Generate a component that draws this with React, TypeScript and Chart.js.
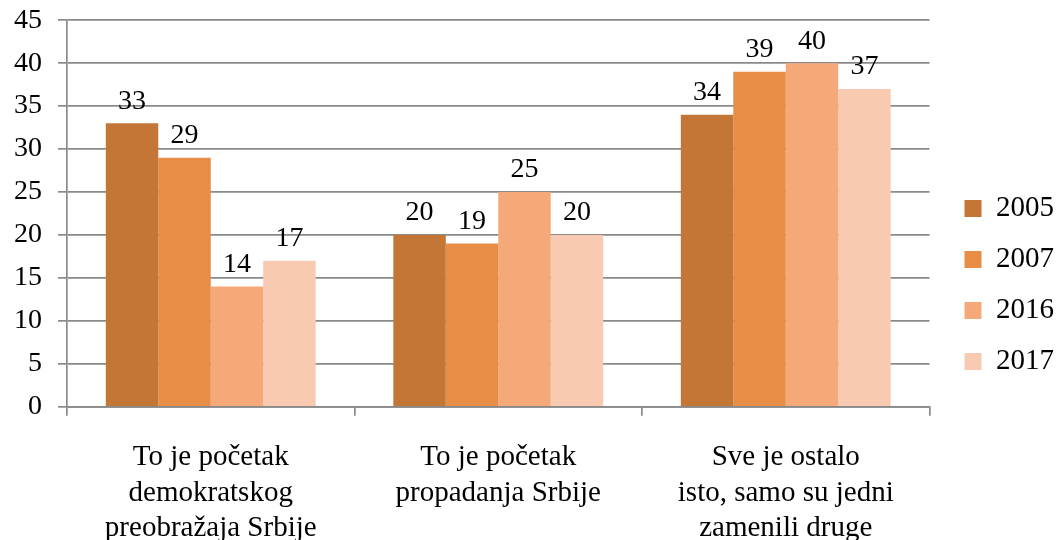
import React, { useEffect, useRef } from "react";
import { Chart, registerables } from "chart.js";

Chart.register(...registerables);

const categories: string[][] = [
  ["To je početak", "demokratskog", "preobražaja Srbije"],
  ["To je početak", "propadanja Srbije"],
  ["Sve je ostalo", "isto, samo su jedni", "zamenili druge"],
];
const seriesNames = ["2005", "2007", "2016", "2017"];
const values2005 = [33, 20, 34];
const values2007 = [29, 19, 39];
const values2016 = [14, 25, 40];
const values2017 = [17, 20, 37];
const seriesColors = ["#C47636", "#E88D45", "#F6A978", "#F8CAB1"];
const yTicks = [0, 5, 10, 15, 20, 25, 30, 35, 40, 45];

const FONT = "'Liberation Serif', 'Times New Roman', serif";

const dataLabelPlugin = {
  id: "dataLabels",
  afterDatasetsDraw(chart: any) {
    const ctx = chart.ctx;
    ctx.save();
    ctx.font = `28px ${FONT}`;
    ctx.fillStyle = "#000";
    ctx.textAlign = "center";
    ctx.textBaseline = "bottom";
    chart.data.datasets.forEach((ds: any, i: number) => {
      const meta = chart.getDatasetMeta(i);
      meta.data.forEach((el: any, j: number) => {
        ctx.fillText(String(ds.data[j]), el.x, el.y - 8);
      });
    });
    ctx.restore();
  },
};

export default function App() {
  const ref = useRef<HTMLCanvasElement>(null);
  useEffect(() => {
    document.body.style.margin = "0";
    const allSeries = [values2005, values2007, values2016, values2017];
    const chart = new Chart(ref.current!, {
      type: "bar",
      data: {
        labels: categories,
        datasets: allSeries.map((v, i) => ({
          label: seriesNames[i],
          data: v,
          backgroundColor: seriesColors[i],
          borderWidth: 0,
          categoryPercentage: 0.73,
          barPercentage: 1.0,
        })),
      },
      options: {
        animation: false,
        responsive: false,
        maintainAspectRatio: false,
        layout: { padding: { left: -2, top: 0, right: -6, bottom: -30 } },
        plugins: {
          tooltip: { enabled: false },
          legend: {
            position: "right",
            labels: {
              font: { family: FONT, size: 29 },
              color: "#000",
              boxWidth: 17,
              boxHeight: 17,
              padding: 22,
            },
          },
        },
        scales: {
          x: {
            offset: true,
            grid: {
              offset: true,
              drawOnChartArea: false,
              color: "#8a8a8a",
              lineWidth: 1.7,
              tickLength: 9,
            },
            border: { color: "#8a8a8a", width: 1.7 },
            ticks: {
              font: { family: FONT, size: 29, lineHeight: 1.22 },
              color: "#000",
              padding: 24,
              maxRotation: 0,
            },
          },
          y: {
            min: 0,
            max: 45,
            afterBuildTicks: (scale: any) => {
              scale.ticks = yTicks.map((v) => ({ value: v }));
            },
            grid: { color: "#8a8a8a", lineWidth: 1.7, tickLength: 9 },
            border: { color: "#8a8a8a", width: 1.7 },
            ticks: {
              font: { family: FONT, size: 28, lineHeight: 0.3 },
              color: "#000",
              padding: 16,
            },
          },
          ySpacer: {
            position: "right",
            display: true,
            grid: { display: false, drawTicks: false },
            border: { display: false },
            ticks: { display: false },
            afterFit: (scale: any) => {
              scale.width = 13;
            },
          },
        },
      },
      plugins: [dataLabelPlugin],
    } as any);
    return () => chart.destroy();
  }, []);
  return (
    <div style={{ width: 1058, height: 540, background: "#fff" }}>
      <canvas ref={ref} width={1058} height={540} />
    </div>
  );
}
